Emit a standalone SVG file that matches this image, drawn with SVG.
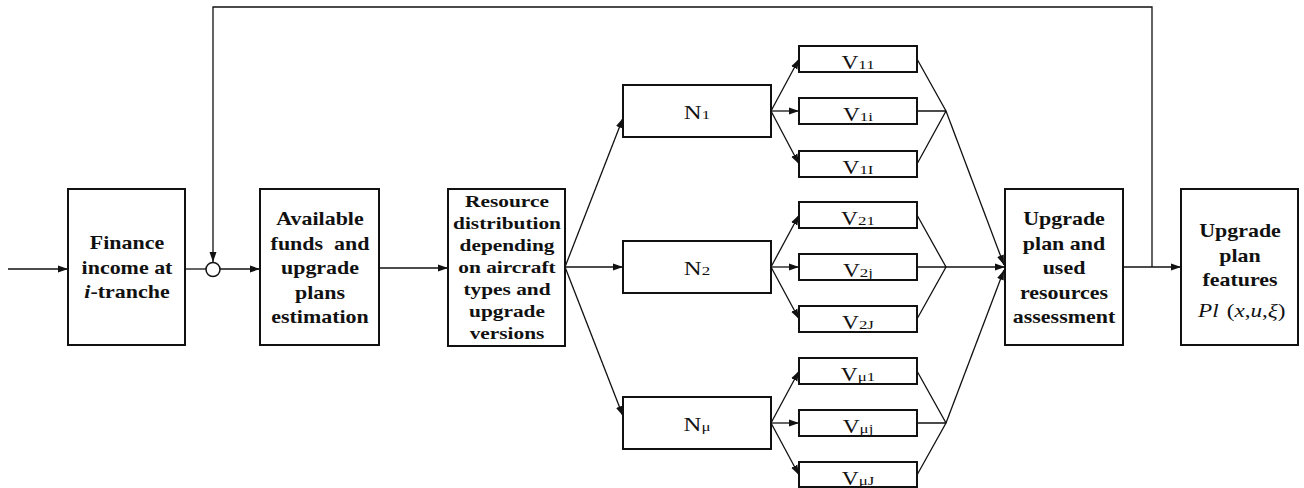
<svg xmlns="http://www.w3.org/2000/svg" width="1304" height="488" viewBox="0 0 1304 488">
<style>
.box{fill:#fff;stroke:#111;stroke-width:2}
.ln{fill:none;stroke:#111;stroke-width:1.3}
text{font-family:"Liberation Serif","Times New Roman",Times,"DejaVu Serif",serif;fill:#111}
.bt{font-weight:bold;font-size:18px;text-anchor:middle}
.rt{font-weight:bold;font-size:17.5px;text-anchor:middle}
.nt{font-size:18px;text-anchor:middle}
.nn{font-size:19px;text-anchor:middle}
.sb{font-size:13px}
</style>
<defs>
<marker id="ah" markerUnits="userSpaceOnUse" markerWidth="11" markerHeight="8" refX="10" refY="4" orient="auto">
<path d="M0,0.5 L10,4 L0,7.5 Z" fill="#111"/>
</marker>
</defs>
<rect width="1304" height="488" fill="#fff"/>
<g id="connectors">
<line class="ln" x1="8" y1="269" x2="68" y2="269" marker-end="url(#ah)"/>
<line class="ln" x1="185" y1="269" x2="206" y2="269"/>
<line class="ln" x1="220" y1="269" x2="260" y2="269" marker-end="url(#ah)"/>
<line class="ln" x1="379" y1="268" x2="448" y2="268" marker-end="url(#ah)"/>
<path class="ln" d="M1152,267 V7 H213 V262" marker-end="url(#ah)"/>
<line class="ln" x1="1123" y1="267" x2="1181" y2="267" marker-end="url(#ah)"/>
<line class="ln" x1="565" y1="267" x2="623" y2="118" marker-end="url(#ah)"/>
<line class="ln" x1="565" y1="267" x2="623" y2="267" marker-end="url(#ah)"/>
<line class="ln" x1="565" y1="267" x2="623" y2="416" marker-end="url(#ah)"/>
<line class="ln" x1="771" y1="111" x2="799" y2="59" marker-end="url(#ah)"/>
<line class="ln" x1="771" y1="111" x2="799" y2="111" marker-end="url(#ah)"/>
<line class="ln" x1="771" y1="111" x2="799" y2="164" marker-end="url(#ah)"/>
<line class="ln" x1="771" y1="267" x2="799" y2="215" marker-end="url(#ah)"/>
<line class="ln" x1="771" y1="267" x2="799" y2="267" marker-end="url(#ah)"/>
<line class="ln" x1="771" y1="267" x2="799" y2="319" marker-end="url(#ah)"/>
<line class="ln" x1="771" y1="423" x2="799" y2="371" marker-end="url(#ah)"/>
<line class="ln" x1="771" y1="423" x2="799" y2="423" marker-end="url(#ah)"/>
<line class="ln" x1="771" y1="423" x2="799" y2="475" marker-end="url(#ah)"/>
<path class="ln" d="M917,59 L946,111 L917,164 M917,111 H946"/>
<path class="ln" d="M917,215 L946,267 L917,319 M917,267 H946"/>
<path class="ln" d="M917,371 L946,423 L917,475 M917,423 H946"/>
<line class="ln" x1="946" y1="111" x2="1004" y2="265" marker-end="url(#ah)"/>
<line class="ln" x1="946" y1="267" x2="1005" y2="267" marker-end="url(#ah)"/>
<line class="ln" x1="946" y1="423" x2="1004" y2="270" marker-end="url(#ah)"/>
</g>
<g id="sum">
<circle cx="213" cy="269.5" r="7" fill="#fff" stroke="#111" stroke-width="1.5"/>
</g>
<g id="finance">
<rect class="box" x="68" y="189" width="117" height="156"/>
<text class="bt" transform="translate(127,249) scale(1.22,1)">Finance</text>
<text class="bt" transform="translate(127,274) scale(1.22,1)">income at</text>
<text class="bt" transform="translate(127,298) scale(1.22,1)"><tspan font-style="italic">i</tspan>-tranche</text>
</g>
<g id="available">
<rect class="box" x="260" y="189" width="119" height="156"/>
<text class="bt" transform="translate(320,225) scale(1.22,1)">Available</text>
<text class="bt" transform="translate(320,249.5) scale(1.22,1)" xml:space="preserve">funds  and</text>
<text class="bt" transform="translate(320,274) scale(1.22,1)">upgrade</text>
<text class="bt" transform="translate(320,298.5) scale(1.22,1)">plans</text>
<text class="bt" transform="translate(320,323) scale(1.22,1)">estimation</text>
</g>
<g id="resource">
<rect class="box" x="448" y="189" width="117" height="157"/>
<text class="rt" transform="translate(507,207) scale(1.22,1)">Resource</text>
<text class="rt" transform="translate(507,229) scale(1.22,1)">distribution</text>
<text class="rt" transform="translate(507,251) scale(1.22,1)">depending</text>
<text class="rt" transform="translate(507,273) scale(1.22,1)">on aircraft</text>
<text class="rt" transform="translate(507,295) scale(1.22,1)">types and</text>
<text class="rt" transform="translate(507,317) scale(1.22,1)">upgrade</text>
<text class="rt" transform="translate(507,339) scale(1.22,1)">versions</text>
</g>
<g id="n1">
<rect class="box" x="623" y="85" width="148" height="52"/>
<text class="nn" transform="translate(697,119) scale(1.3,1)">N<tspan class="sb">1</tspan></text>
</g>
<g id="n2">
<rect class="box" x="623" y="241" width="148" height="52"/>
<text class="nn" transform="translate(697,275) scale(1.3,1)">N<tspan class="sb">2</tspan></text>
</g>
<g id="nmu">
<rect class="box" x="623" y="397" width="148" height="52"/>
<text class="nn" transform="translate(697,431) scale(1.3,1)">N<tspan class="sb">μ</tspan></text>
</g>
<g id="v11"><rect class="box" x="799" y="46" width="118" height="26"/><text class="nt" transform="translate(858,69) scale(1.3,1)">V<tspan class="sb">11</tspan></text></g>
<g id="v1i"><rect class="box" x="799" y="98" width="118" height="26"/><text class="nt" transform="translate(858,121) scale(1.3,1)">V<tspan class="sb">1i</tspan></text></g>
<g id="v1I"><rect class="box" x="799" y="151" width="118" height="26"/><text class="nt" transform="translate(858,174) scale(1.3,1)">V<tspan class="sb">1I</tspan></text></g>
<g id="v21"><rect class="box" x="799" y="202" width="118" height="26"/><text class="nt" transform="translate(858,225) scale(1.3,1)">V<tspan class="sb">21</tspan></text></g>
<g id="v2j"><rect class="box" x="799" y="254" width="118" height="26"/><text class="nt" transform="translate(858,277) scale(1.3,1)">V<tspan class="sb">2j</tspan></text></g>
<g id="v2J"><rect class="box" x="799" y="306" width="118" height="26"/><text class="nt" transform="translate(858,329) scale(1.3,1)">V<tspan class="sb">2J</tspan></text></g>
<g id="vmu1"><rect class="box" x="799" y="358" width="118" height="26"/><text class="nt" transform="translate(858,381) scale(1.3,1)">V<tspan class="sb">μ1</tspan></text></g>
<g id="vmuj"><rect class="box" x="799" y="410" width="118" height="26"/><text class="nt" transform="translate(858,433) scale(1.3,1)">V<tspan class="sb">μj</tspan></text></g>
<g id="vmuJ"><rect class="box" x="799" y="462" width="118" height="25"/><text class="nt" transform="translate(858,485) scale(1.3,1)">V<tspan class="sb">μJ</tspan></text></g>
<g id="assessment">
<rect class="box" x="1005" y="189" width="118" height="156"/>
<text class="bt" transform="translate(1064,225) scale(1.22,1)">Upgrade</text>
<text class="bt" transform="translate(1064,249.5) scale(1.22,1)">plan and</text>
<text class="bt" transform="translate(1064,274) scale(1.22,1)">used</text>
<text class="bt" transform="translate(1064,298.5) scale(1.22,1)">resources</text>
<text class="bt" transform="translate(1064,323) scale(1.22,1)">assessment</text>
</g>
<g id="features">
<rect class="box" x="1181" y="189" width="117" height="156"/>
<text class="bt" transform="translate(1240,237) scale(1.22,1)">Upgrade</text>
<text class="bt" transform="translate(1240,261.5) scale(1.22,1)">plan</text>
<text class="bt" transform="translate(1240,286) scale(1.22,1)">features</text>
<text font-size="19" transform="translate(1198,317) scale(1.22,1)"><tspan x="0" font-style="italic">Pl</tspan><tspan x="23.5">(</tspan><tspan font-style="italic">x</tspan>,<tspan font-style="italic">u</tspan>,<tspan font-style="italic">ξ</tspan>)</text>
</g>
</svg>
